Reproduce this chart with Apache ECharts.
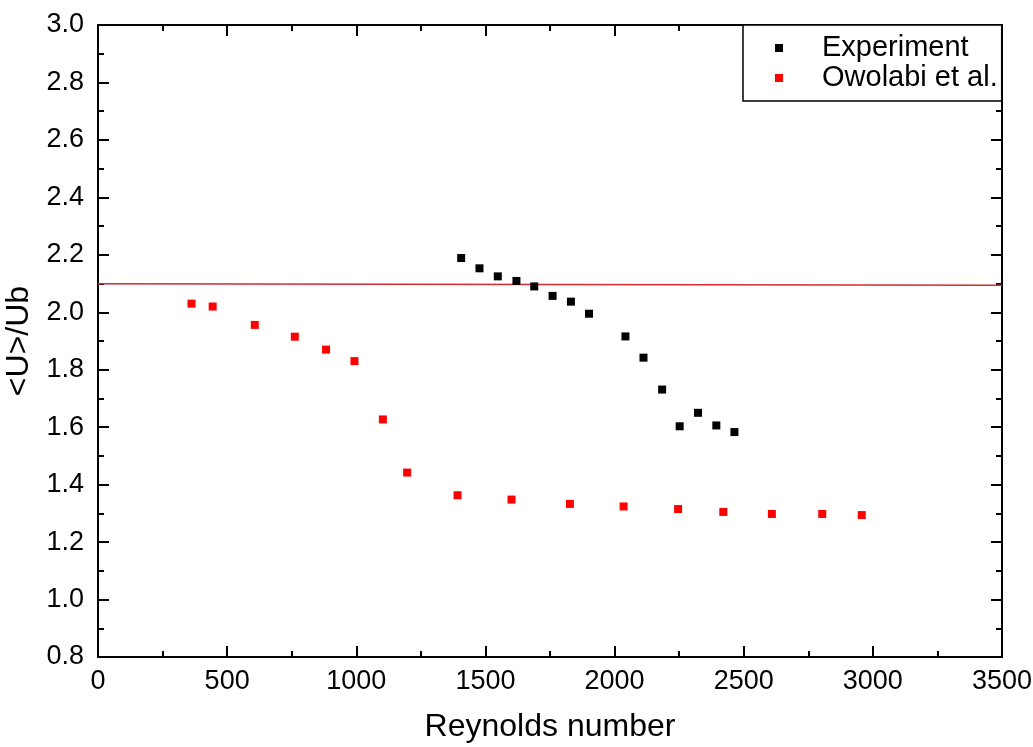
<!DOCTYPE html>
<html>
<head>
<meta charset="utf-8">
<script src="https://cdn.jsdelivr.net/npm/echarts@6/dist/echarts.min.js"></script>
<style>
html,body{margin:0;padding:0;background:#fff;}
#chart{width:1033px;height:747px;}
</style>
</head>
<body>
<div id="chart"></div>
<script>
const expX = [1406,1477,1548,1620,1689,1760,1831,1901,2042,2112,2184,2252,2323,2394,2464];
const expY = [2.189,2.153,2.125,2.109,2.090,2.057,2.037,1.995,1.916,1.842,1.731,1.603,1.650,1.606,1.583];
const owoX = [362,444,607,762,883,993,1103,1197,1392,1601,1827,2035,2246,2421,2609,2804,2957];
const owoY = [2.030,2.020,1.956,1.915,1.870,1.830,1.627,1.442,1.363,1.348,1.333,1.324,1.315,1.305,1.298,1.298,1.294];
const refX = [0, 3500];
const refY = [2.099, 2.094];

const zip = (a, b) => a.map((v, i) => [v, b[i]]);
const FONT = '"Liberation Sans", Arial, sans-serif';

const axisCommon = {
  axisLine: { show: true, onZero: false, lineStyle: { color: '#000', width: 2 } },
  axisTick: { show: true, inside: true, length: 11, lineStyle: { color: '#000', width: 2 } },
  minorTick: { show: true, splitNumber: 2, length: 6, lineStyle: { color: '#000', width: 2 } },
  splitLine: { show: false },
};

const chart = echarts.init(document.getElementById('chart'), null, { renderer: 'canvas' });
chart.setOption({
  backgroundColor: '#fff',
  animation: false,
  grid: { left: 98, right: 31, top: 25, bottom: 90, containLabel: false, outerBoundsMode: 'none' },
  legend: {
    orient: 'vertical',
    left: 743,
    top: 25,
    data: ['Experiment', 'Owolabi et al.'],
    icon: 'rect',
    itemWidth: 8,
    itemHeight: 8,
    itemGap: 0,
    padding: [8, 4, 8, 32],
    borderColor: '#000',
    borderWidth: 1.5,
    borderRadius: 0,
    backgroundColor: '#fff',
    textStyle: { fontFamily: FONT, fontSize: 29, color: '#000', lineHeight: 30, padding: [0, 0, 0, 34] }
  },
  xAxis: [
    Object.assign({}, axisCommon, {
      type: 'value', min: 0, max: 3500, interval: 500, position: 'bottom',
      name: 'Reynolds number', nameLocation: 'middle', nameGap: 54,
      nameTextStyle: { fontFamily: FONT, fontSize: 32, color: '#000' },
      axisLabel: { fontFamily: FONT, fontSize: 27, color: '#000', margin: 11,
        formatter: v => String(v) }
    }),
    Object.assign({}, axisCommon, {
      type: 'value', min: 0, max: 3500, interval: 500, position: 'top',
      axisLabel: { show: false }
    })
  ],
  yAxis: [
    Object.assign({}, axisCommon, {
      type: 'value', min: 0.8, max: 3.0, interval: 0.2, position: 'left',
      name: '<U>/Ub', nameLocation: 'middle', nameGap: 62,
      nameTextStyle: { fontFamily: FONT, fontSize: 32, color: '#000' },
      axisLabel: { fontFamily: FONT, fontSize: 27, color: '#000', margin: 14,
        formatter: v => v.toFixed(1) }
    }),
    Object.assign({}, axisCommon, {
      type: 'value', min: 0.8, max: 3.0, interval: 0.2, position: 'right',
      axisLabel: { show: false }
    })
  ],
  series: [
    {
      name: 'ref', type: 'line', data: zip(refX, refY), symbol: 'none',
      lineStyle: { color: '#d42a35', width: 1.5 }, silent: true, z: 1
    },
    {
      name: 'Experiment', type: 'scatter', data: zip(expX, expY),
      symbol: 'rect', symbolSize: 8, itemStyle: { color: '#000', opacity: 1 }, z: 3
    },
    {
      name: 'Owolabi et al.', type: 'scatter', data: zip(owoX, owoY),
      symbol: 'rect', symbolSize: 8, itemStyle: { color: '#ff0000', opacity: 1 }, z: 3
    }
  ]
});
</script>
</body>
</html>
